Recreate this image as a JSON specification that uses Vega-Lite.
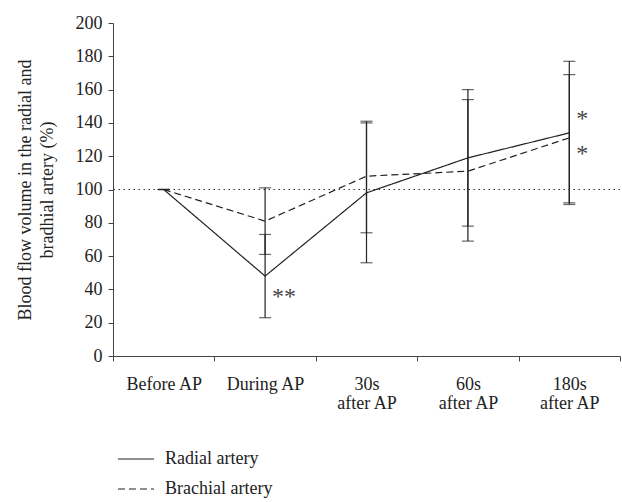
{
  "$schema": "https://vega.github.io/schema/vega-lite/v6.json",
  "width": 507,
  "height": 333,
  "autosize": {"type": "none"},
  "padding": {"left": 113, "top": 23, "right": 2, "bottom": 146},
  "background": "white",
  "config": {
    "font": "Liberation Serif",
    "view": {"stroke": null},
    "axis": {
      "labelFont": "Liberation Serif",
      "titleFont": "Liberation Serif",
      "labelFontSize": 18,
      "titleFontSize": 18,
      "titleFontWeight": "normal",
      "labelColor": "#222",
      "titleColor": "#222",
      "domainColor": "#444",
      "tickColor": "#444",
      "grid": false
    }
  },
  "datasets": {
    "main": [
      {"series": "Radial artery", "time": "Before AP", "value": 100, "lo": 100, "hi": 100},
      {"series": "Radial artery", "time": "During AP", "value": 48, "lo": 23, "hi": 73},
      {"series": "Radial artery", "time": "30s after AP", "value": 98, "lo": 56, "hi": 140},
      {"series": "Radial artery", "time": "60s after AP", "value": 119, "lo": 78, "hi": 160},
      {"series": "Radial artery", "time": "180s after AP", "value": 134, "lo": 91, "hi": 177},
      {"series": "Brachial artery", "time": "Before AP", "value": 100, "lo": 100, "hi": 100},
      {"series": "Brachial artery", "time": "During AP", "value": 81, "lo": 61, "hi": 101},
      {"series": "Brachial artery", "time": "30s after AP", "value": 108, "lo": 74, "hi": 141},
      {"series": "Brachial artery", "time": "60s after AP", "value": 111, "lo": 69, "hi": 154},
      {"series": "Brachial artery", "time": "180s after AP", "value": 131, "lo": 92, "hi": 169}
    ],
    "notes": [
      {"time": "During AP", "value": 37, "label": "**"},
      {"time": "180s after AP", "value": 144, "label": "*"},
      {"time": "180s after AP", "value": 123, "label": "*"}
    ]
  },
  "encoding": {
    "y": {
      "type": "quantitative",
      "scale": {"domain": [0, 200], "nice": false},
      "axis": {
        "values": [0, 20, 40, 60, 80, 100, 120, 140, 160, 180, 200],
        "labelOverlap": false,
        "title": ["Blood flow volume in the radial and", "bradhial artery (%)"],
        "titleLineHeight": 22,
        "titlePadding": 19,
        "tickSize": 5,
        "labelPadding": 6
      }
    }
  },
  "layer": [
    {
      "data": {"values": [{"ref": 100}]},
      "mark": {"type": "rule", "color": "#333", "strokeDash": [1.5, 3.5], "strokeWidth": 1},
      "encoding": {
        "y": {"field": "ref", "type": "quantitative"}
      }
    },
    {
      "data": {"name": "main"},
      "mark": {"type": "rule", "color": "#222", "strokeWidth": 1.2},
      "encoding": {
        "x": {"field": "time", "type": "nominal", "sort": ["Before AP", "During AP", "30s after AP", "60s after AP", "180s after AP"]},
        "y": {"field": "lo", "type": "quantitative"},
        "y2": {"field": "hi"}
      }
    },
    {
      "data": {"name": "main"},
      "mark": {"type": "tick", "color": "#222", "size": 12, "thickness": 1.2},
      "encoding": {
        "x": {"field": "time", "type": "nominal", "sort": ["Before AP", "During AP", "30s after AP", "60s after AP", "180s after AP"]},
        "y": {"field": "lo", "type": "quantitative"}
      }
    },
    {
      "data": {"name": "main"},
      "mark": {"type": "tick", "color": "#222", "size": 12, "thickness": 1.2},
      "encoding": {
        "x": {"field": "time", "type": "nominal", "sort": ["Before AP", "During AP", "30s after AP", "60s after AP", "180s after AP"]},
        "y": {"field": "hi", "type": "quantitative"}
      }
    },
    {
      "data": {"name": "main"},
      "mark": {"type": "line", "color": "#222", "strokeWidth": 1.2},
      "encoding": {
        "x": {
          "field": "time",
          "type": "nominal",
          "sort": ["Before AP", "During AP", "30s after AP", "60s after AP", "180s after AP"],
          "scale": {"type": "band", "paddingInner": 0, "paddingOuter": 0},
          "axis": {
            "title": null,
            "labelAngle": 0,
            "labelAlign": "center",
            "labelBaseline": "top",
            "tickBand": "extent",
            "labelPadding": 14,
            "tickSize": 5,
            "labelLineHeight": 19,
            "labelExpr": "datum.label == '30s after AP' ? ['30s', 'after AP'] : datum.label == '60s after AP' ? ['60s', 'after AP'] : datum.label == '180s after AP' ? ['180s', 'after AP'] : datum.label"
          }
        },
        "y": {"field": "value", "type": "quantitative"},
        "strokeDash": {
          "field": "series",
          "type": "nominal",
          "scale": {"domain": ["Radial artery", "Brachial artery"], "range": [[1, 0], [7, 4]]},
          "legend": {
            "title": null,
            "orient": "none",
            "legendX": 4,
            "legendY": 417,
            "symbolType": "stroke",
            "symbolSize": 1300,
            "symbolStrokeWidth": 1.2,
            "symbolStrokeColor": "#222",
            "labelFontSize": 18,
            "labelFont": "Liberation Serif",
            "labelColor": "#222",
            "labelOffset": 10,
            "rowPadding": 2
          }
        }
      }
    },
    {
      "data": {"name": "notes"},
      "mark": {"type": "text", "align": "left", "baseline": "middle", "dx": 7, "dy": 3, "fontSize": 24, "font": "Liberation Serif"},
      "encoding": {
        "x": {"field": "time", "type": "nominal", "sort": ["Before AP", "During AP", "30s after AP", "60s after AP", "180s after AP"]},
        "y": {"field": "value", "type": "quantitative"},
        "text": {"field": "label"},
        "color": {"value": "#444"}
      }
    }
  ]
}
